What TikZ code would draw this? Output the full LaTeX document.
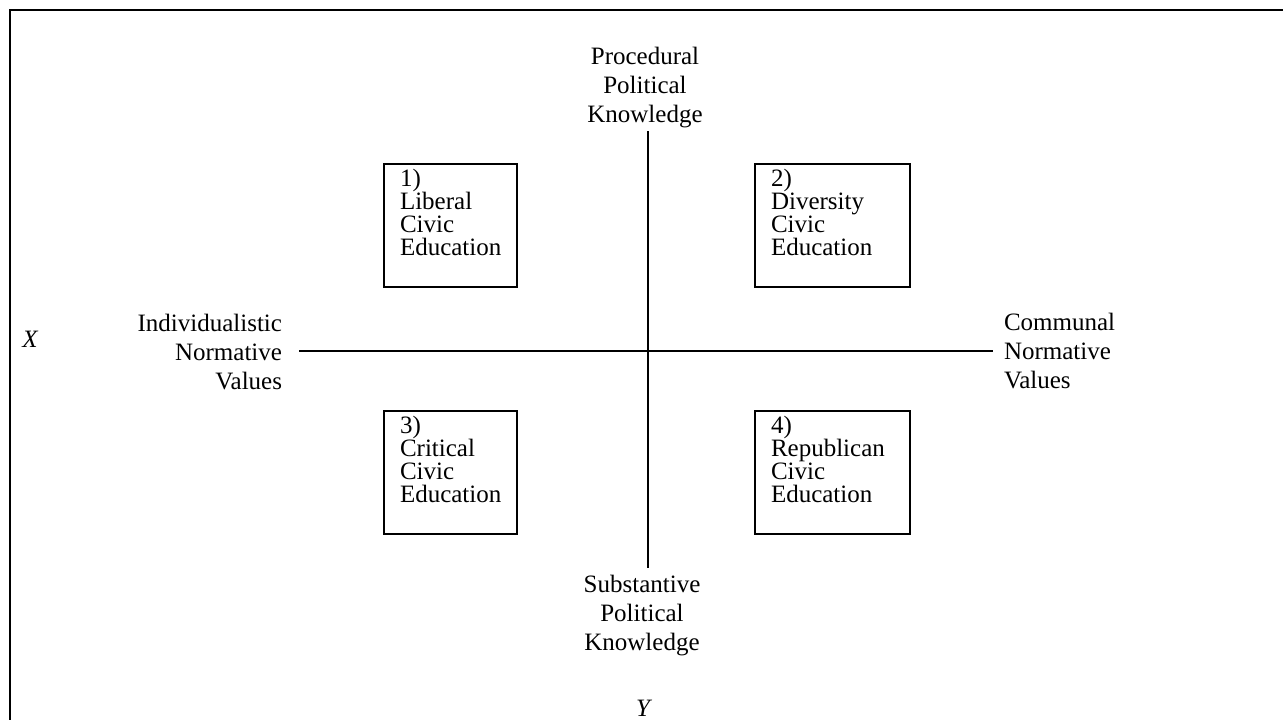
\documentclass[tikz,border=0pt]{standalone}
\usepackage{fontspec}
\setmainfont{Liberation Serif}
\begin{document}
\begin{tikzpicture}[x=0.5pt,y=-0.5pt,line width=1pt,
  lbl/.style={inner sep=0pt,font=\fontsize{12.5}{14.5}\selectfont},
  boxtxt/.style={inner sep=0pt,align=left,anchor=north west,font=\fontsize{12.5}{11.5}\selectfont},
  quad/.style={draw,rectangle,minimum height=61.5pt,inner sep=0pt}]
\useasboundingbox (0,0) rectangle (1283,719);
% frame (top and left edges)
\coordinate (fbl) at (10,720);
\coordinate (ftl) at (10,10);
\coordinate (ftr) at (1284,10);
\draw (fbl) -- (ftl) -- (ftr);
% axes
\coordinate (vt) at (648,131);
\coordinate (vb) at (648,568);
\coordinate (hl) at (299,351);
\coordinate (hr) at (993,351);
\draw (vt) -- (vb);
\draw (hl) -- (hr);
% axis labels
\node[lbl,align=center,anchor=north] (top) at (645,46) {Procedural\\Political\\Knowledge};
\node[lbl,align=center,anchor=north] (bot) at (642,574) {Substantive\\Political\\Knowledge};
\node[lbl,align=right,anchor=north east] (lft) at (283,313) {Individualistic\\Normative\\Values};
\node[lbl,align=left,anchor=north west] (rgt) at (1003,312) {Communal\\Normative\\Values};
\node[lbl,font=\fontsize{12.5}{14.5}\selectfont\itshape] (xl) at (30,339) {X};
\node[lbl,font=\fontsize{12.5}{14.5}\selectfont\itshape] (yl) at (643,708) {Y};
% quadrant boxes
\node[quad,minimum width=66.5pt] (b1) at (450.5,225.5) {};
\node[quad,minimum width=77.5pt] (b2) at (832.5,225.5) {};
\node[quad,minimum width=66.5pt] (b3) at (450.5,472) {};
\node[quad,minimum width=77.5pt] (b4) at (832.5,472) {};
\node[boxtxt] (t1) at (399,168) {1)\\Liberal\\Civic\\Education};
\node[boxtxt] (t2) at (770,168) {2)\\Diversity\\Civic\\Education};
\node[boxtxt] (t3) at (399,415) {3)\\Critical\\Civic\\Education};
\node[boxtxt] (t4) at (770,415) {4)\\Republican\\Civic\\Education};
\end{tikzpicture}
\end{document}
